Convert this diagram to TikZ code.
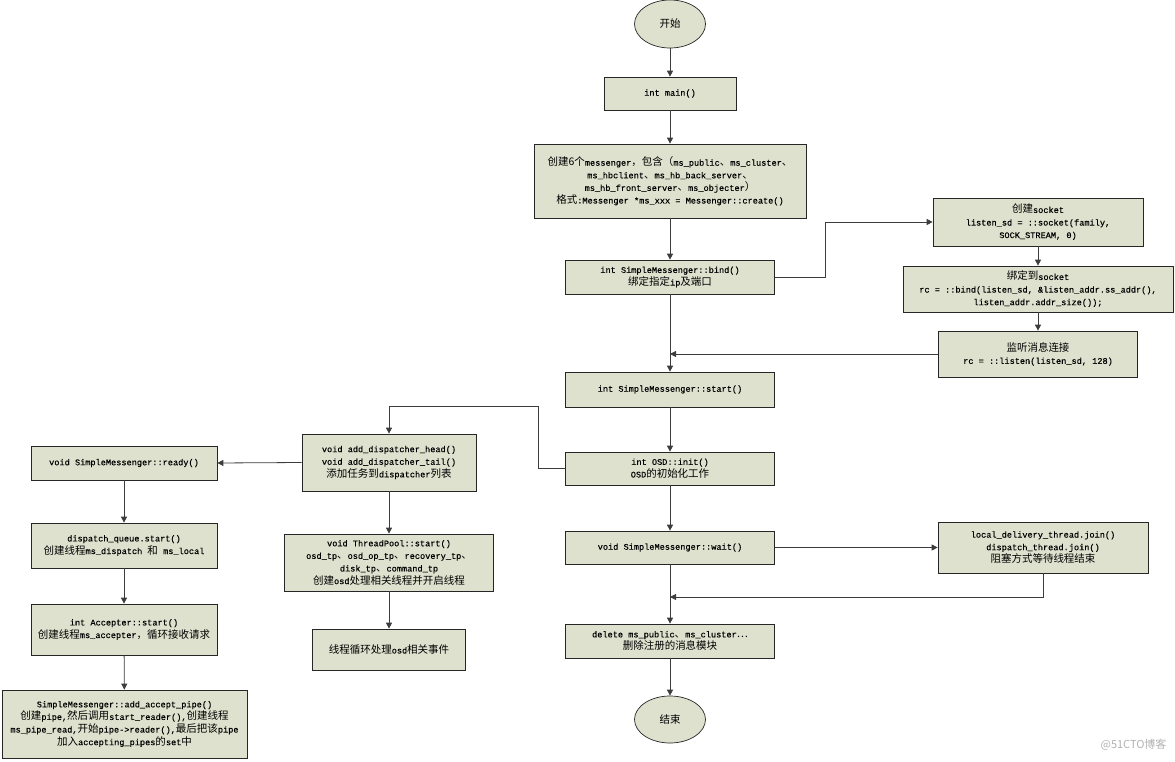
\documentclass[tikz,border=0pt]{standalone}
\usepackage{fontspec}
\setmainfont{Liberation Mono}[FakeBold=0.25]
\newfontfamily\cjk[Scale=1.22]{Noto Sans CJK SC}
\newfontfamily\wmfont{Noto Sans CJK SC}
\newcommand\zhc[1]{{\cjk #1}}
\usetikzlibrary{shapes.geometric,arrows.meta}
\definecolor{boxfill}{RGB}{221,225,205}
\definecolor{linec}{RGB}{60,60,60}
\tikzset{
  box/.style={draw=black!85, line width=0.7pt, fill=boxfill, align=center, inner sep=2pt,
    font=\fontsize{8.6}{12.6}\selectfont},
  term/.style={ellipse, draw=black!85, line width=0.7pt, fill=boxfill, inner sep=0pt,
    font=\fontsize{8.6}{12.6}\selectfont},
  arr/.style={draw=linec, line width=0.8pt, -{Triangle[length=6pt,width=6pt]}},
}
\begin{document}
\begin{tikzpicture}[x=1pt,y=-1pt]
\useasboundingbox (0,0) rectangle (1175,762);

% main column
\node[term, minimum width=71pt, minimum height=48pt] (st) at (670,24) {\zhc{开始}};
\node[box, minimum width=132pt, minimum height=33pt] (main) at (670,93.5) {int main()};
\node[box, minimum width=272pt, minimum height=74pt] (msgr) at (670,181)
  {\zhc{创建6个}messenger\zhc{，包含（}ms\_public\zhc{、}ms\_cluster\zhc{、}\\
   ms\_hbclient\zhc{、}ms\_hb\_back\_server\zhc{、}\\
   ms\_hb\_front\_server\zhc{、}ms\_objecter\zhc{）}\\
   \zhc{格式}:Messenger *ms\_xxx = Messenger::create()};
\node[box, minimum width=209pt, minimum height=34pt] (bind) at (670,277)
  {int SimpleMessenger::bind()\\ \zhc{绑定指定}ip\zhc{及端口}};
\node[box, minimum width=209pt, minimum height=35pt] (start) at (670,389.5)
  {int SimpleMessenger::start()};
\node[box, minimum width=209pt, minimum height=33pt] (init) at (670,468.5)
  {int OSD::init()\\ OSD\zhc{的初始化工作}};
\node[box, minimum width=209pt, minimum height=33pt] (wait) at (670,547.5)
  {void SimpleMessenger::wait()};
\node[box, minimum width=209pt, minimum height=34pt] (del) at (670,641)
  {delete ms\_public\zhc{、}ms\_cluster\zhc{…}\\ \zhc{删除注册的消息模块}};
\node[term, minimum width=71pt, minimum height=47pt] (end) at (670,719.5) {\zhc{结束}};

% right column
\node[box, minimum width=210pt, minimum height=48pt] (sock) at (1038,222)
  {\zhc{创建}socket\\ listen\_sd = ::socket(family,\\ SOCK\_STREAM, 0)};
\node[box, minimum width=270pt, minimum height=46pt] (bsock) at (1038,289)
  {\zhc{绑定到}socket\\ rc = ::bind(listen\_sd, \&listen\_addr.ss\_addr(),\\ listen\_addr.addr\_size());};
\node[box, minimum width=199pt, minimum height=46pt] (lis) at (1038,354)
  {\zhc{监听消息连接}\\ rc = ::listen(listen\_sd, 128)};
\node[box, minimum width=210pt, minimum height=51pt] (join) at (1043,547.5)
  {local\_delivery\_thread.join()\\ dispatch\_thread.join()\\ \zhc{阻塞方式等待线程结束}};

% middle column
\node[box, minimum width=174pt, minimum height=57pt] (disp) at (389,462.5)
  {void add\_dispatcher\_head()\\ void add\_dispatcher\_tail()\\ \zhc{添加任务到}dispatcher\zhc{列表}};
\node[box, minimum width=209pt, minimum height=57pt] (tp) at (389,562.5)
  {void ThreadPool::start()\\ osd\_tp\zhc{、}osd\_op\_tp\zhc{、}recovery\_tp\zhc{、}\\ disk\_tp\zhc{、}command\_tp\\ \zhc{创建}osd\zhc{处理相关线程并开启线程}};
\node[box, minimum width=153pt, minimum height=41pt] (loop) at (389,649.5)
  {\zhc{线程循环处理}osd\zhc{相关事件}};

% left column
\node[box, minimum width=186pt, minimum height=34pt] (ready) at (124,463)
  {void SimpleMessenger::ready()};
\node[box, minimum width=186pt, minimum height=45pt] (dq) at (124,545.5)
  {dispatch\_queue.start()\\ \zhc{创建线程}ms\_dispatch \zhc{和} ms\_local};
\node[box, minimum width=186pt, minimum height=51pt] (acc) at (124,629.5)
  {int Accepter::start()\\ \zhc{创建线程}ms\_accepter\zhc{，循环接收请求}};
\node[box, minimum width=245pt, minimum height=68pt] (pipe) at (124.5,724)
  {SimpleMessenger::add\_accept\_pipe()\\ \zhc{创建}pipe,\zhc{然后调用}start\_reader(),\zhc{创建线程}\\ ms\_pipe\_read,\zhc{开始}pipe->reader(),\zhc{最后把该}pipe\\ \zhc{加入}accepting\_pipes\zhc{的}set\zhc{中}};

% watermark
\node[text=black!30, font=\wmfont\fontsize{11}{12}\selectfont, anchor=east] (wm) at (1170,745) {@51CTO博客};

% merge points
\coordinate (m1) at (670,354);
\coordinate (m2) at (670,597);
\coordinate (b1) at (538,406);

% connectors
\draw[arr] (st) -- (main);
\draw[arr] (main) -- (msgr);
\draw[arr] (msgr) -- (bind);
\draw[arr] (bind) -- (start);
\draw[arr] (start) -- (init);
\draw[arr] (init) -- (wait);
\draw[arr] (wait) -- (del);
\draw[arr] (del) -- (end);

\draw[arr] (bind.east) -- ++(51,0) |- (sock.west);
\draw[arr] (sock) -- (bsock);
\draw[arr] (bsock) -- (lis);
\draw[arr] (lis.west) -- (m1);

\draw[arr] (wait.east) -- (join.west);
\draw[arr] (join.south) |- (m2);

\draw[arr] (init.west) -| (b1) -| (disp.north);
\draw[arr] (disp.west) -- (ready.east);
\draw[arr] (disp) -- (tp);
\draw[arr] (tp) -- (loop);

\draw[arr] (ready) -- (dq);
\draw[arr] (dq) -- (acc);
\draw[arr] (acc) -- (pipe);
\end{tikzpicture}
\end{document}
